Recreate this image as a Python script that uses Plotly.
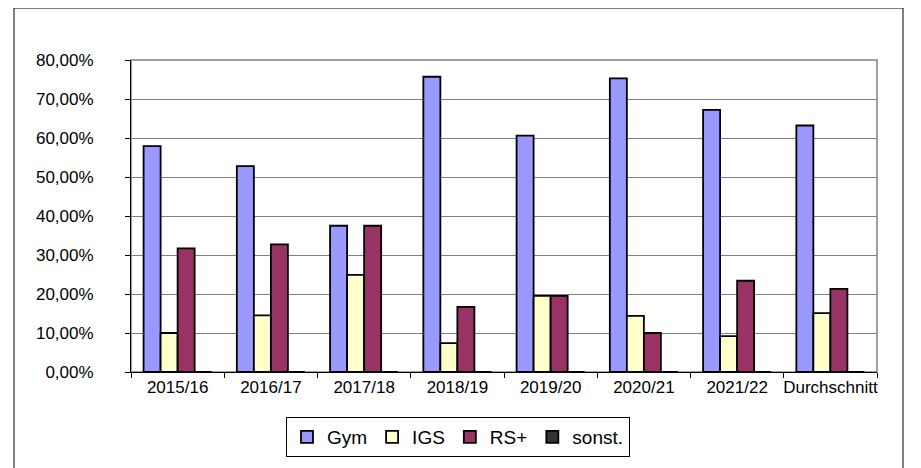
import plotly.graph_objects as go

categories = ["2015/16", "2016/17", "2017/18", "2018/19", "2019/20", "2020/21", "2021/22", "Durchschnitt"]
gym = [0.579, 0.528, 0.375, 0.757, 0.606, 0.753, 0.672, 0.632]
igs = [0.100, 0.145, 0.249, 0.074, 0.195, 0.144, 0.092, 0.151]
rs_plus = [0.317, 0.327, 0.375, 0.167, 0.195, 0.100, 0.234, 0.213]
sonst = [0, 0, 0, 0, 0, 0, 0, 0]

series = [
    ("Gym", gym, "#9999FF"),
    ("IGS", igs, "#FFFFCC"),
    ("RS+", rs_plus, "#993366"),
    ("sonst.", sonst, "#333333"),
]

fig = go.Figure()
for name, vals, color in series:
    fig.add_trace(go.Bar(
        x=categories, y=vals, name=name,
        marker=dict(color=color, line=dict(color="black", width=1.8)),
    ))

# page offset of the figure inside the browser (body margin)
OFF = 8
W, H = 921, 468
# target screen positions of plot area
SL, SR, ST, SB = 131, 877, 60, 372
L, T = SL - OFF, ST - OFF
R = W - (SR - OFF)
B = H - (SB - OFF)
pw, ph = W - L - R, H - T - B

def px(x):
    return (x - SL) / pw

def py(y):
    return (SB - y) / ph

fig.update_layout(
    width=W, height=H,
    margin=dict(l=L, r=R, t=T, b=B, pad=0, autoexpand=False),
    paper_bgcolor="white", plot_bgcolor="white",
    font=dict(family="Liberation Sans, Arial, sans-serif", color="black", size=17),
    separators=",.",
    barmode="group", bargap=0.27, bargroupgap=0,
    showlegend=True,
    legend=dict(
        orientation="h", x=px(458), y=py(437), xanchor="center", yanchor="middle",
        bordercolor="black", borderwidth=1, bgcolor="white",
        font=dict(size=19), itemwidth=30, traceorder="normal",
    ),
    xaxis=dict(
        showline=True, linecolor="black", linewidth=1,
        ticks="outside", ticklen=5, tickcolor="black", tickson="boundaries",
        tickangle=0, automargin=False,
        showgrid=False, fixedrange=True,
    ),
    yaxis=dict(
        range=[0, 0.8], dtick=0.1, tickformat=".2%",
        showline=True, linecolor="black", linewidth=1,
        ticks="outside", ticklen=5, tickcolor="black",
        showgrid=True, gridcolor="#808080", gridwidth=1,
        ticklabelstandoff=28, zeroline=False, automargin=False,
    ),
    shapes=[
        dict(type="rect", xref="paper", yref="paper", x0=0, x1=1, y0=0, y1=1,
             line=dict(color="#808080", width=1.5), layer="below"),
        dict(type="rect", xref="paper", yref="paper", x0=px(14), x1=px(903), y0=py(470), y1=py(8),
             line=dict(color="black", width=1), layer="below"),
    ],
)

fig.write_html("out.html")
